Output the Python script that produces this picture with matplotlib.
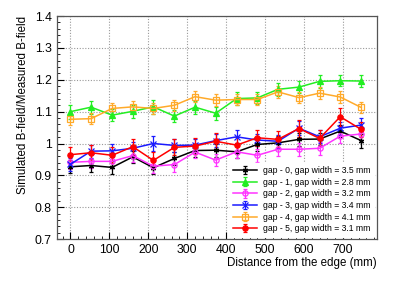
import matplotlib
matplotlib.use("Agg")
import matplotlib.pyplot as plt
from matplotlib.ticker import MultipleLocator

plt.rcParams['font.family'] = ['Liberation Sans', 'DejaVu Sans']

distance = [0, 53, 107, 160, 213, 267, 320, 373, 427, 480, 533, 587, 640, 693, 747]

gap0 = [0.927, 0.931, 0.925, 0.958, 0.924, 0.953, 0.978, 0.979, 0.974, 0.997, 1.002, 1.013, 1.014, 1.039, 1.009]
gap1 = [1.100, 1.114, 1.089, 1.101, 1.115, 1.086, 1.114, 1.095, 1.141, 1.143, 1.170, 1.177, 1.195, 1.197, 1.196]
gap2 = [0.941, 0.944, 0.944, 0.962, 0.929, 0.934, 0.973, 0.948, 0.974, 0.963, 0.982, 0.982, 0.985, 1.023, 1.030]
gap3 = [0.935, 0.976, 0.977, 0.985, 1.000, 0.994, 0.995, 1.009, 1.021, 1.011, 1.007, 1.048, 1.021, 1.048, 1.058]
gap4 = [1.076, 1.078, 1.110, 1.115, 1.110, 1.120, 1.147, 1.136, 1.138, 1.138, 1.162, 1.144, 1.158, 1.146, 1.113]
gap5 = [0.965, 0.971, 0.963, 0.990, 0.947, 0.988, 0.992, 1.007, 0.995, 1.018, 1.013, 1.047, 1.016, 1.084, 1.044]

err0 = [0.020, 0.020, 0.020, 0.020, 0.020, 0.020, 0.020, 0.020, 0.020, 0.020, 0.020, 0.020, 0.020, 0.020, 0.022]
err1 = [0.022, 0.020, 0.018, 0.020, 0.022, 0.020, 0.020, 0.020, 0.020, 0.020, 0.020, 0.020, 0.020, 0.018, 0.018]
err2 = [0.020, 0.020, 0.020, 0.020, 0.020, 0.022, 0.020, 0.020, 0.020, 0.020, 0.020, 0.020, 0.020, 0.020, 0.020]
err3 = [0.020, 0.020, 0.020, 0.020, 0.022, 0.020, 0.020, 0.020, 0.020, 0.020, 0.020, 0.022, 0.020, 0.020, 0.022]
err4 = [0.018, 0.018, 0.018, 0.018, 0.018, 0.018, 0.018, 0.018, 0.018, 0.018, 0.018, 0.018, 0.018, 0.018, 0.018]
err5 = [0.025, 0.025, 0.025, 0.025, 0.025, 0.025, 0.025, 0.025, 0.025, 0.025, 0.025, 0.028, 0.025, 0.028, 0.025]

labels = ["gap - 0, gap width = 3.5 mm", "gap - 1, gap width = 2.8 mm",
          "gap - 2, gap width = 3.2 mm", "gap - 3, gap width = 3.4 mm",
          "gap - 4, gap width = 4.1 mm", "gap - 5, gap width = 3.1 mm"]
colors = ["#000000", "#22ee22", "#ff33ff", "#1a1aff", "#ffaa2a", "#ff0000"]
markers = [(6, 2, 0), "^", "o", "x", "s", "o"]
fills = [True, True, False, True, False, True]

series = [gap0, gap1, gap2, gap3, gap4, gap5]
errs = [err0, err1, err2, err3, err4, err5]

fig = plt.figure(figsize=(4.15, 2.81), dpi=100)
ax = fig.add_axes([0.137, 0.149, 0.771, 0.794])

for ys, es, lab, c, m, f in zip(series, errs, labels, colors, markers, fills):
    ax.errorbar(distance, ys, yerr=es, color=c, marker=m, markersize=3.8,
                markerfacecolor=c if f else "none", markeredgecolor=c,
                markeredgewidth=0.9, linewidth=1.1, elinewidth=0.9,
                capsize=1.3, capthick=0.9, label=lab)

ax.set_xlim(-35, 787)
ax.set_ylim(0.7, 1.4)
ax.xaxis.set_major_locator(MultipleLocator(100))
ax.xaxis.set_minor_locator(MultipleLocator(20))
ax.yaxis.set_major_locator(MultipleLocator(0.1))
ax.yaxis.set_minor_locator(MultipleLocator(0.02))
ax.set_yticks([0.7, 0.8, 0.9, 1.0, 1.1, 1.2, 1.3, 1.4])
ax.set_yticklabels(["0.7", "0.8", "0.9", "1", "1.1", "1.2", "1.3", "1.4"])
ax.tick_params(which="both", direction="in", labelsize=8.8, top=False, right=False)
ax.tick_params(which="major", length=5)
ax.tick_params(which="minor", length=2.5)
ax.grid(True, which="major", color="#999999", linestyle=(0, (1, 1.5)), linewidth=0.8)
for s in ax.spines.values():
    s.set_color("#555555")
    s.set_linewidth(0.9)

ax.set_xlabel("Distance from the edge (mm)", fontsize=8.3, loc="right", labelpad=1)
ax.set_ylabel("Simulated B-field/Measured B-field", fontsize=8.3, loc="top", labelpad=4)

leg = ax.legend(loc="lower right", fontsize=6.2, frameon=True, facecolor="white",
                edgecolor="white", framealpha=1.0, handlelength=2.8,
                borderaxespad=0.3, labelspacing=0.3, handletextpad=0.7)

fig.savefig("out.png", dpi=100)
